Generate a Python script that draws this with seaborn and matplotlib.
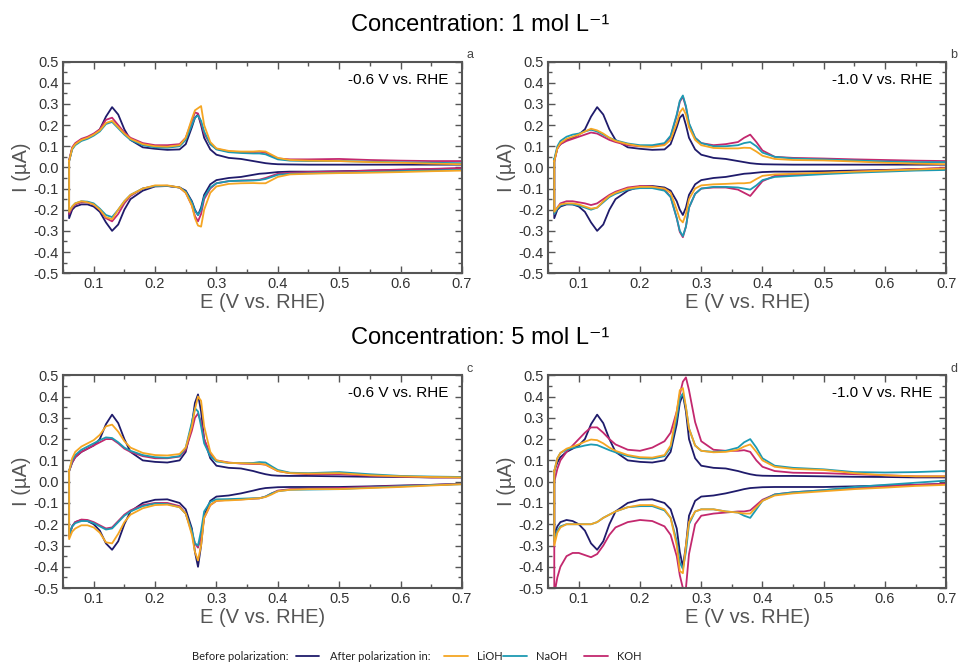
import numpy as np
import pandas as pd
import matplotlib
matplotlib.use('Agg')
import matplotlib.pyplot as plt
import seaborn as sns
from matplotlib.lines import Line2D
from matplotlib.ticker import MultipleLocator

# --- data (E in V vs. RHE, I in uA) ---
E_GRID = [0.06, 0.065, 0.07, 0.08, 0.09, 0.10, 0.11, 0.12, 0.13, 0.14, 0.15, 0.16, 0.18, 0.20,
          0.22, 0.24, 0.25, 0.26, 0.265, 0.27, 0.275, 0.28, 0.29, 0.30, 0.32, 0.34, 0.36, 0.37,
          0.38, 0.39, 0.40, 0.42, 0.45, 0.50, 0.55, 0.60, 0.65, 0.70]

# before polarization, 1 mol/L (panels a, b)
BEFORE_1M_UP = [0.03, 0.09, 0.11, 0.13, 0.14, 0.155, 0.18, 0.24, 0.285, 0.25, 0.18, 0.13, 0.095, 0.088,
                0.083, 0.085, 0.11, 0.19, 0.235, 0.25, 0.2, 0.14, 0.085, 0.06, 0.045, 0.04, 0.03, 0.025,
                0.02, 0.017, 0.015, 0.014, 0.013, 0.013, 0.013, 0.013, 0.013, 0.013]
BEFORE_1M_DN = [-0.24, -0.2, -0.185, -0.175, -0.175, -0.185, -0.21, -0.26, -0.3, -0.27, -0.2, -0.15, -0.11, -0.09,
                -0.088, -0.095, -0.11, -0.16, -0.2, -0.225, -0.19, -0.13, -0.08, -0.06, -0.05, -0.045, -0.035, -0.03,
                -0.028, -0.025, -0.022, -0.02, -0.02, -0.018, -0.015, -0.012, -0.008, -0.005]

# before polarization, 5 mol/L (panels c, d)
BEFORE_5M_UP = [0.05, 0.09, 0.115, 0.14, 0.155, 0.17, 0.2, 0.27, 0.315, 0.275, 0.2, 0.14, 0.1, 0.093,
                0.09, 0.1, 0.14, 0.27, 0.37, 0.41, 0.33, 0.2, 0.11, 0.075, 0.065, 0.062, 0.05, 0.042,
                0.035, 0.03, 0.028, 0.027, 0.027, 0.025, 0.023, 0.022, 0.02, 0.02]
BEFORE_5M_DN = [-0.25, -0.21, -0.19, -0.18, -0.185, -0.2, -0.23, -0.29, -0.32, -0.28, -0.2, -0.14, -0.1, -0.085,
                -0.083, -0.1, -0.13, -0.22, -0.33, -0.4, -0.3, -0.16, -0.09, -0.07, -0.065, -0.055, -0.042, -0.035,
                -0.03, -0.028, -0.026, -0.025, -0.025, -0.025, -0.022, -0.018, -0.015, -0.01]

# panel a: 1 mol/L, -0.6 V
A_LIOH_UP = [0.03, 0.09, 0.11, 0.13, 0.14, 0.155, 0.175, 0.21, 0.22, 0.19, 0.16, 0.135, 0.11, 0.1,
             0.098, 0.105, 0.14, 0.23, 0.27, 0.28, 0.29, 0.2, 0.12, 0.09, 0.078, 0.075, 0.075, 0.077,
             0.075, 0.06, 0.045, 0.035, 0.032, 0.03, 0.025, 0.022, 0.018, 0.015]
A_LIOH_DN = [-0.21, -0.185, -0.17, -0.16, -0.165, -0.175, -0.2, -0.235, -0.245, -0.2, -0.16, -0.13, -0.1, -0.085,
             -0.085, -0.095, -0.12, -0.18, -0.24, -0.275, -0.28, -0.2, -0.12, -0.09, -0.078, -0.075, -0.074, -0.075,
             -0.075, -0.06, -0.045, -0.033, -0.03, -0.027, -0.025, -0.022, -0.018, -0.015]
A_NAOH_UP = [0.03, 0.085, 0.105, 0.125, 0.135, 0.15, 0.17, 0.205, 0.215, 0.185, 0.155, 0.13, 0.105, 0.095,
             0.093, 0.1, 0.13, 0.2, 0.235, 0.245, 0.22, 0.17, 0.11, 0.085, 0.072, 0.068, 0.066, 0.066,
             0.062, 0.05, 0.038, 0.032, 0.03, 0.03, 0.027, 0.024, 0.022, 0.02]
A_NAOH_DN = [-0.21, -0.185, -0.17, -0.16, -0.162, -0.17, -0.195, -0.225, -0.235, -0.2, -0.16, -0.13, -0.1, -0.088,
             -0.087, -0.095, -0.115, -0.165, -0.205, -0.225, -0.2, -0.14, -0.095, -0.075, -0.065, -0.063, -0.062, -0.06,
             -0.055, -0.045, -0.035, -0.03, -0.028, -0.025, -0.022, -0.018, -0.015, -0.012]
A_KOH_UP = [0.035, 0.095, 0.115, 0.135, 0.145, 0.16, 0.18, 0.225, 0.235, 0.2, 0.165, 0.14, 0.115, 0.105,
            0.105, 0.11, 0.14, 0.22, 0.26, 0.255, 0.21, 0.16, 0.11, 0.088, 0.075, 0.072, 0.072, 0.074,
            0.07, 0.055, 0.042, 0.038, 0.038, 0.04, 0.035, 0.032, 0.03, 0.03]
A_KOH_DN = [-0.22, -0.19, -0.175, -0.165, -0.165, -0.175, -0.2, -0.24, -0.255, -0.22, -0.17, -0.135, -0.1, -0.088,
            -0.087, -0.095, -0.12, -0.18, -0.23, -0.255, -0.22, -0.15, -0.1, -0.075, -0.065, -0.062, -0.06, -0.058,
            -0.05, -0.04, -0.03, -0.025, -0.022, -0.02, -0.015, -0.01, -0.007, -0.003]

# panel b: 1 mol/L, -1.0 V
B_LIOH_UP = [0.03, 0.09, 0.115, 0.135, 0.145, 0.155, 0.17, 0.183, 0.175, 0.16, 0.14, 0.125, 0.11, 0.1,
             0.097, 0.105, 0.13, 0.21, 0.26, 0.28, 0.25, 0.19, 0.13, 0.105, 0.092, 0.09, 0.09, 0.093,
             0.092, 0.075, 0.055, 0.04, 0.035, 0.033, 0.028, 0.022, 0.018, 0.015]
B_LIOH_DN = [-0.21, -0.19, -0.175, -0.17, -0.17, -0.175, -0.185, -0.195, -0.19, -0.16, -0.135, -0.12, -0.1, -0.092,
             -0.092, -0.1, -0.12, -0.2, -0.245, -0.26, -0.22, -0.15, -0.1, -0.085, -0.08, -0.078, -0.075, -0.075,
             -0.072, -0.055, -0.04, -0.033, -0.03, -0.025, -0.02, -0.015, -0.01, -0.005]
B_NAOH_UP = [0.04, 0.1, 0.125, 0.145, 0.155, 0.16, 0.17, 0.178, 0.17, 0.155, 0.14, 0.128, 0.113, 0.105,
             0.105, 0.115, 0.15, 0.25, 0.315, 0.34, 0.29, 0.21, 0.14, 0.115, 0.1, 0.1, 0.105, 0.115,
             0.12, 0.1, 0.07, 0.05, 0.042, 0.038, 0.033, 0.028, 0.025, 0.025]
B_NAOH_DN = [-0.22, -0.195, -0.18, -0.172, -0.175, -0.18, -0.19, -0.2, -0.19, -0.165, -0.14, -0.125, -0.105, -0.098,
             -0.098, -0.11, -0.14, -0.24, -0.3, -0.325, -0.28, -0.19, -0.125, -0.1, -0.092, -0.092, -0.095, -0.1,
             -0.105, -0.085, -0.06, -0.045, -0.04, -0.032, -0.025, -0.02, -0.015, -0.012]
B_KOH_UP = [0.03, 0.09, 0.11, 0.125, 0.135, 0.145, 0.155, 0.165, 0.16, 0.145, 0.13, 0.12, 0.105, 0.1,
            0.1, 0.11, 0.145, 0.245, 0.31, 0.335, 0.285, 0.205, 0.14, 0.115, 0.105, 0.11, 0.12, 0.14,
            0.155, 0.12, 0.08, 0.05, 0.045, 0.042, 0.038, 0.035, 0.032, 0.03]
B_KOH_DN = [-0.22, -0.19, -0.17, -0.16, -0.16, -0.165, -0.17, -0.178, -0.17, -0.15, -0.13, -0.115, -0.095, -0.088,
            -0.09, -0.105, -0.14, -0.24, -0.305, -0.33, -0.28, -0.19, -0.125, -0.1, -0.095, -0.095, -0.105, -0.12,
            -0.135, -0.1, -0.065, -0.04, -0.035, -0.028, -0.02, -0.015, -0.008, -0.002]

# panel c: 5 mol/L, -0.6 V
C_LIOH_UP = [0.05, 0.11, 0.14, 0.165, 0.18, 0.195, 0.22, 0.26, 0.268, 0.235, 0.19, 0.16, 0.135, 0.125,
             0.123, 0.13, 0.16, 0.26, 0.34, 0.4, 0.38, 0.26, 0.14, 0.1, 0.088, 0.087, 0.085, 0.085,
             0.08, 0.065, 0.05, 0.04, 0.038, 0.04, 0.03, 0.025, 0.022, 0.02]
C_LIOH_DN = [-0.27, -0.235, -0.22, -0.205, -0.205, -0.215, -0.24, -0.285, -0.29, -0.245, -0.19, -0.155, -0.125, -0.11,
             -0.108, -0.12, -0.15, -0.25, -0.33, -0.37, -0.3, -0.17, -0.11, -0.09, -0.088, -0.085, -0.08, -0.078,
             -0.072, -0.06, -0.045, -0.038, -0.035, -0.035, -0.03, -0.025, -0.018, -0.012]
C_NAOH_UP = [0.05, 0.1, 0.125, 0.15, 0.165, 0.18, 0.195, 0.208, 0.205, 0.185, 0.16, 0.145, 0.125, 0.115,
             0.112, 0.12, 0.16, 0.28, 0.345, 0.33, 0.26, 0.18, 0.12, 0.095, 0.088, 0.087, 0.088, 0.092,
             0.09, 0.072, 0.055, 0.042, 0.04, 0.045, 0.035, 0.027, 0.024, 0.022]
C_NAOH_DN = [-0.25, -0.21, -0.195, -0.185, -0.185, -0.195, -0.21, -0.225, -0.22, -0.19, -0.16, -0.14, -0.115, -0.103,
             -0.105, -0.12, -0.15, -0.23, -0.29, -0.3, -0.23, -0.14, -0.095, -0.083, -0.082, -0.08, -0.078, -0.078,
             -0.07, -0.055, -0.045, -0.038, -0.037, -0.035, -0.028, -0.022, -0.016, -0.012]
C_KOH_UP = [0.05, 0.09, 0.115, 0.14, 0.155, 0.17, 0.185, 0.2, 0.2, 0.18, 0.155, 0.14, 0.12, 0.11,
            0.11, 0.118, 0.15, 0.24, 0.3, 0.32, 0.28, 0.2, 0.13, 0.1, 0.09, 0.085, 0.083, 0.083,
            0.08, 0.065, 0.05, 0.04, 0.035, 0.035, 0.028, 0.024, 0.02, 0.02]
C_KOH_DN = [-0.26, -0.21, -0.19, -0.178, -0.18, -0.19, -0.205, -0.22, -0.215, -0.185, -0.155, -0.135, -0.11, -0.1,
            -0.1, -0.115, -0.15, -0.24, -0.29, -0.31, -0.26, -0.17, -0.11, -0.09, -0.085, -0.083, -0.08, -0.078,
            -0.07, -0.055, -0.042, -0.035, -0.033, -0.03, -0.025, -0.02, -0.015, -0.01]

# panel d: 5 mol/L, -1.0 V
D_LIOH_UP = [0.05, 0.11, 0.135, 0.155, 0.165, 0.175, 0.188, 0.198, 0.195, 0.18, 0.16, 0.145, 0.125, 0.115,
             0.113, 0.125, 0.17, 0.33, 0.43, 0.44, 0.35, 0.25, 0.17, 0.145, 0.138, 0.14, 0.15, 0.165,
             0.175, 0.14, 0.1, 0.07, 0.06, 0.055, 0.04, 0.03, 0.025, 0.025]
D_LIOH_DN = [-0.3, -0.24, -0.215, -0.2, -0.2, -0.2, -0.2, -0.2, -0.19, -0.17, -0.155, -0.14, -0.12, -0.11,
             -0.11, -0.13, -0.17, -0.3, -0.42, -0.43, -0.3, -0.19, -0.14, -0.13, -0.13, -0.14, -0.145, -0.15,
             -0.15, -0.12, -0.09, -0.065, -0.055, -0.045, -0.035, -0.028, -0.02, -0.015]
D_NAOH_UP = [0.05, 0.11, 0.135, 0.15, 0.158, 0.163, 0.17, 0.175, 0.172, 0.16, 0.148, 0.138, 0.12, 0.11,
             0.108, 0.12, 0.16, 0.3, 0.39, 0.415, 0.35, 0.25, 0.17, 0.145, 0.14, 0.145, 0.16, 0.185,
             0.2, 0.16, 0.11, 0.075, 0.065, 0.058, 0.045, 0.043, 0.045, 0.05]
D_NAOH_DN = [-0.28, -0.23, -0.21, -0.2, -0.2, -0.2, -0.2, -0.2, -0.19, -0.17, -0.155, -0.14, -0.12, -0.115,
             -0.115, -0.135, -0.17, -0.28, -0.38, -0.41, -0.33, -0.2, -0.14, -0.13, -0.13, -0.14, -0.145, -0.16,
             -0.17, -0.13, -0.09, -0.06, -0.05, -0.04, -0.025, -0.015, -0.005, 0.005]
D_KOH_UP = [0.0, 0.06, 0.1, 0.14, 0.17, 0.2, 0.23, 0.255, 0.255, 0.23, 0.2, 0.175, 0.15, 0.145,
            0.16, 0.19, 0.23, 0.33, 0.41, 0.47, 0.49, 0.43, 0.28, 0.19, 0.15, 0.145, 0.145, 0.148,
            0.14, 0.1, 0.07, 0.05, 0.042, 0.04, 0.035, 0.03, 0.025, 0.025]
D_KOH_DN = [-0.53, -0.45, -0.4, -0.35, -0.335, -0.335, -0.345, -0.355, -0.34, -0.3, -0.25, -0.215, -0.19, -0.18,
            -0.185, -0.21, -0.25, -0.35, -0.44, -0.5, -0.5, -0.34, -0.2, -0.16, -0.15, -0.145, -0.14, -0.14,
            -0.135, -0.11, -0.085, -0.06, -0.05, -0.04, -0.03, -0.022, -0.015, -0.01]

SERIES = ['Before', 'KOH', 'NaOH', 'LiOH']
COLORS = {'Before': '#1f1b6b', 'LiOH': '#f5a623', 'NaOH': '#1c9ab2', 'KOH': '#c3286e'}

PANELS = [
    ('a', '-0.6 V vs. RHE', {'Before': (BEFORE_1M_UP, BEFORE_1M_DN), 'KOH': (A_KOH_UP, A_KOH_DN),
                             'NaOH': (A_NAOH_UP, A_NAOH_DN), 'LiOH': (A_LIOH_UP, A_LIOH_DN)}),
    ('b', '-1.0 V vs. RHE', {'Before': (BEFORE_1M_UP, BEFORE_1M_DN), 'KOH': (B_KOH_UP, B_KOH_DN),
                             'NaOH': (B_NAOH_UP, B_NAOH_DN), 'LiOH': (B_LIOH_UP, B_LIOH_DN)}),
    ('c', '-0.6 V vs. RHE', {'Before': (BEFORE_5M_UP, BEFORE_5M_DN), 'KOH': (C_KOH_UP, C_KOH_DN),
                             'NaOH': (C_NAOH_UP, C_NAOH_DN), 'LiOH': (C_LIOH_UP, C_LIOH_DN)}),
    ('d', '-1.0 V vs. RHE', {'Before': (BEFORE_5M_UP, BEFORE_5M_DN), 'KOH': (D_KOH_UP, D_KOH_DN),
                             'NaOH': (D_NAOH_UP, D_NAOH_DN), 'LiOH': (D_LIOH_UP, D_LIOH_DN)}),
]


def cv_frame(curves):
    """closed CV loop per series: anodic sweep out, cathodic sweep back"""
    rows = []
    for name in SERIES:
        up, dn = curves[name]
        e = list(E_GRID) + list(E_GRID[::-1]) + [E_GRID[0]]
        i = list(up) + list(dn[::-1]) + [up[0]]
        rows.append(pd.DataFrame({'E': e, 'I': i, 'series': name}))
    return pd.concat(rows, ignore_index=True)


sns.set_theme(style='ticks')
plt.rcParams['font.family'] = ['Liberation Sans', 'DejaVu Sans']
plt.rcParams['axes.unicode_minus'] = False

grey = '#555555'
fig = plt.figure(figsize=(9.6, 6.63), dpi=100)

positions = [(0.0656, 0.588, 0.4156, 0.319), (0.571, 0.588, 0.4146, 0.319),
             (0.0656, 0.113, 0.4156, 0.321), (0.571, 0.113, 0.4146, 0.321)]

for (letter, note, curves), pos in zip(PANELS, positions):
    ax = fig.add_axes(pos)
    df = cv_frame(curves)
    sns.lineplot(data=df, x='E', y='I', hue='series', palette=COLORS, hue_order=SERIES,
                 sort=False, estimator=None, units='series', lw=1.3, ax=ax, legend=False)
    ax.set_xlim(0.05, 0.7)
    ax.set_ylim(-0.5, 0.5)
    ax.xaxis.set_major_locator(MultipleLocator(0.1))
    ax.xaxis.set_minor_locator(MultipleLocator(0.05))
    ax.yaxis.set_major_locator(MultipleLocator(0.1))
    ax.yaxis.set_minor_locator(MultipleLocator(0.05))
    ax.xaxis.set_major_formatter(plt.FuncFormatter(lambda v, p: f'{v:.1f}' if v > 0.07 else ''))
    ax.yaxis.set_major_formatter(plt.FuncFormatter(lambda v, p: f'{v:.1f}'))
    ax.tick_params(which='both', direction='in', top=True, right=True, colors=grey,
                   labelcolor='#333333', labelsize=10.5, width=1.0)
    ax.tick_params(which='major', length=5, pad=3)
    ax.tick_params(which='minor', length=3)
    for sp in ax.spines.values():
        sp.set_color(grey)
        sp.set_linewidth(1.5)
    ax.set_xlabel('E (V vs. RHE)', fontsize=14.5, color=grey, labelpad=1)
    ax.set_ylabel('I (µA)', fontsize=14.5, color=grey, labelpad=2)
    ax.text(0.965, 0.915, note, transform=ax.transAxes, ha='right', va='center',
            fontsize=11, color='black')
    ax.text(1.02, 1.03, letter, transform=ax.transAxes, ha='center', va='center',
            fontsize=9, color='#444444')

fig.text(0.5, 0.962, 'Concentration: 1 mol L⁻¹', ha='center', va='center', fontsize=17, color='black')
fig.text(0.5, 0.49, 'Concentration: 5 mol L⁻¹', ha='center', va='center', fontsize=17, color='black')

# legend row at the bottom
ly = 1 - 656 / 663
lfont = dict(fontsize=8, color='#222222', va='center', family=['Lato', 'DejaVu Sans'])
fig.text(289 / 960, ly, 'Before polarization:', ha='right', **lfont)
fig.add_artist(Line2D([296 / 960, 319 / 960], [ly, ly], color=COLORS['Before'], lw=1.3))
fig.text(431 / 960, ly, 'After polarization in:', ha='right', **lfont)
for x0, name in [(444, 'LiOH'), (503, 'NaOH'), (584, 'KOH')]:
    fig.add_artist(Line2D([x0 / 960, (x0 + 24) / 960], [ly, ly], color=COLORS[name], lw=1.3))
    fig.text((x0 + 33) / 960, ly, name, ha='left', **lfont)

fig.savefig('out.png', dpi=100)
